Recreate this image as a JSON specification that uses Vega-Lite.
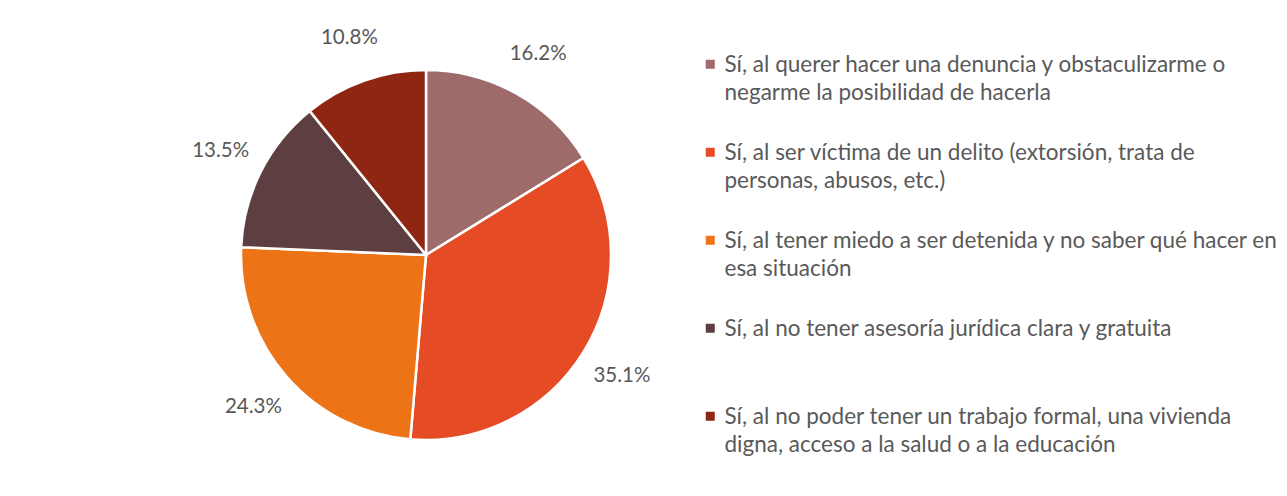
{
  "$schema": "https://vega.github.io/schema/vega-lite/v6.json",
  "width": 370,
  "height": 370,
  "autosize": {"type": "none"},
  "padding": {"left": 241, "top": 70, "right": 676, "bottom": 56},
  "background": "white",
  "config": {
    "view": {"stroke": null},
    "font": "Lato",
    "style": {"guide-label": {"lineHeight": 28, "dy": -10}}
  },
  "data": {
    "values": [
      {"categoria": "Sí, al querer hacer una denuncia y obstaculizarme o negarme la posibilidad de hacerla", "valor": 0.162, "orden": 1},
      {"categoria": "Sí, al ser víctima de un delito (extorsión, trata de personas, abusos, etc.)", "valor": 0.351, "orden": 2},
      {"categoria": "Sí, al tener miedo a ser detenida y no saber qué hacer en esa situación", "valor": 0.243, "orden": 3},
      {"categoria": "Sí, al no tener asesoría jurídica clara y gratuita", "valor": 0.135, "orden": 4},
      {"categoria": "Sí, al no poder tener un trabajo formal, una vivienda digna, acceso a la salud o a la educación", "valor": 0.108, "orden": 5}
    ]
  },
  "encoding": {
    "theta": {"field": "valor", "type": "quantitative", "stack": true},
    "order": {"field": "orden", "type": "quantitative"},
    "color": {
      "field": "categoria",
      "type": "nominal",
      "sort": null,
      "scale": {
        "domain": [
          "Sí, al querer hacer una denuncia y obstaculizarme o negarme la posibilidad de hacerla",
          "Sí, al ser víctima de un delito (extorsión, trata de personas, abusos, etc.)",
          "Sí, al tener miedo a ser detenida y no saber qué hacer en esa situación",
          "Sí, al no tener asesoría jurídica clara y gratuita",
          "Sí, al no poder tener un trabajo formal, una vivienda digna, acceso a la salud o a la educación"
        ],
        "range": ["#9E6B6B", "#E54B24", "#EC7316", "#5D3E41", "#8E2612"]
      },
      "legend": {
        "title": null,
        "orient": "none",
        "legendX": 458,
        "legendY": -17,
        "symbolType": "square",
        "symbolSize": 81,
        "symbolStrokeWidth": 0,
        "labelFont": "Lato",
        "labelFontSize": 22.5,
        "labelColor": "#595959",
        "labelLimit": 800,
        "labelOffset": 3,
        "labelBaseline": "top",
        "rowPadding": 36,
        "labelExpr": "datum.label == 'Sí, al querer hacer una denuncia y obstaculizarme o negarme la posibilidad de hacerla' ? ['Sí, al querer hacer una denuncia y obstaculizarme o', 'negarme la posibilidad de hacerla'] : datum.label == 'Sí, al ser víctima de un delito (extorsión, trata de personas, abusos, etc.)' ? ['Sí, al ser víctima de un delito (extorsión, trata de', 'personas, abusos, etc.)'] : datum.label == 'Sí, al tener miedo a ser detenida y no saber qué hacer en esa situación' ? ['Sí, al tener miedo a ser detenida y no saber qué hacer en', 'esa situación'] : datum.label == 'Sí, al no poder tener un trabajo formal, una vivienda digna, acceso a la salud o a la educación' ? ['Sí, al no poder tener un trabajo formal, una vivienda', 'digna, acceso a la salud o a la educación'] : [datum.label, ' ']"
      }
    }
  },
  "layer": [
    {
      "mark": {"type": "arc", "outerRadius": 185, "stroke": "white", "strokeWidth": 2.5}
    },
    {
      "mark": {"type": "text", "radius": 230, "fontSize": 20.5, "font": "Lato"},
      "encoding": {
        "text": {"field": "valor", "type": "quantitative", "format": ".1%"},
        "color": {"value": "#595959"}
      }
    }
  ]
}
